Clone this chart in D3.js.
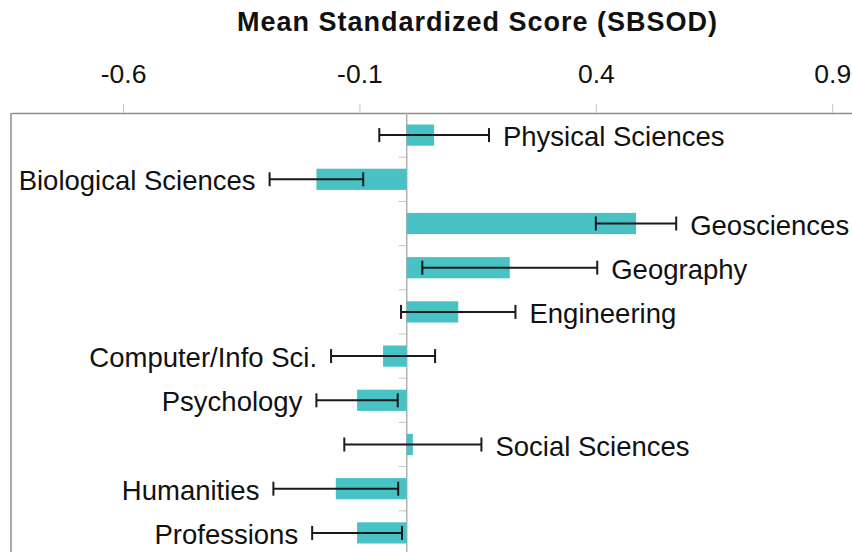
<!DOCTYPE html>
<html>
<head>
<meta charset="utf-8">
<script src="https://cdn.jsdelivr.net/npm/d3@7"></script>
<style>
  body { margin: 0; background: #fff; }
  svg { display: block; font-family: "Liberation Sans", Arial, sans-serif; }
</style>
</head>
<body>
<script>
const width = 852;
const height = 552;

// data
const fields = ['Physical Sciences', 'Biological Sciences', 'Geosciences', 'Geography',
    'Engineering', 'Computer/Info Sci.', 'Psychology', 'Social Sciences', 'Humanities', 'Professions'];
const means = [0.058, -0.191, 0.485, 0.218, 0.109, -0.050, -0.105, 0.013, -0.150, -0.105];
const errors = [0.116, 0.099, 0.085, 0.185, 0.121, 0.110, 0.086, 0.145, 0.132, 0.095];
const xTicks = [-0.6, -0.1, 0.4, 0.9];

let data = fields.map((f, i) => ({ field: f, mean: means[i], err: errors[i] }));

let svg = d3.select('body')
    .append('svg')
    .attr('width', width)
    .attr('height', height);

let plot = { left: 11, top: 113, right: 862, bottom: 555 };

let xScale = d3.scaleLinear()
    .domain([-0.837, 0.963])
    .range([plot.left, plot.right]);

let yScale = d3.scaleBand()
    .domain(fields)
    .range([plot.top, plot.bottom])
    .paddingInner(0.52)
    .paddingOuter(0.26);

// title
svg.append('text')
    .attr('x', 477.5)
    .attr('y', 31)
    .attr('text-anchor', 'middle')
    .style('font-size', '27px')
    .style('font-weight', 'bold')
    .style('letter-spacing', '1px')
    .style('fill', '#111')
    .text('Mean Standardized Score (SBSOD)');

// frame (left edge)
svg.append('line')
    .attr('x1', plot.left).attr('x2', plot.left)
    .attr('y1', plot.top).attr('y2', plot.bottom)
    .style('stroke', '#8c8c8c')
    .style('stroke-width', 1.5);

// top axis
let xAxis = d3.axisTop(xScale)
    .tickValues(xTicks)
    .tickSize(9)
    .tickSizeOuter(0)
    .tickPadding(21)
    .tickFormat(d => d3.format('.1f')(d).replace('\u2212', '-'));

let xAxisGroup = svg.append('g')
    .classed('x axis', true)
    .attr('transform', `translate(0, ${plot.top})`)
    .call(xAxis);

xAxisGroup.select('.domain')
    .style('stroke', '#8c8c8c')
    .style('stroke-width', 1.5);
xAxisGroup.selectAll('.tick line')
    .style('stroke', '#c4c4c4');
xAxisGroup.selectAll('.tick text')
    .style('font-size', '26.5px')
    .style('font-family', '"Liberation Sans", Arial, sans-serif')
    .style('fill', '#111');

// zero axis with ticks between categories
let x0 = xScale(0);
let step = yScale.step();
let gap = (step - yScale.bandwidth()) / 2;

let zeroGroup = svg.append('g').classed('zero axis', true);
zeroGroup.selectAll('.sep')
    .data(fields.slice(1))
    .enter()
    .append('line')
    .classed('sep', true)
    .attr('x1', x0 - 8)
    .attr('x2', x0)
    .attr('y1', d => yScale(d) - gap)
    .attr('y2', d => yScale(d) - gap)
    .style('stroke', '#c4c4c4')
    .style('stroke-width', 1);

// bars
let barsGroup = svg.append('g').classed('bars', true);
barsGroup.selectAll('rect')
    .data(data)
    .enter()
    .append('rect')
    .attr('x', d => Math.min(xScale(d.mean), x0))
    .attr('y', d => yScale(d.field))
    .attr('width', d => Math.abs(xScale(d.mean) - x0))
    .attr('height', yScale.bandwidth())
    .style('fill', '#48c2c5');

zeroGroup.append('line')
    .attr('x1', x0).attr('x2', x0)
    .attr('y1', plot.top).attr('y2', plot.bottom)
    .style('stroke', '#b0b0b0')
    .style('stroke-width', 1.5);

// error bars
let capH = 14;
let errGroup = svg.append('g').classed('errors', true);
let eb = errGroup.selectAll('.eb')
    .data(data)
    .enter()
    .append('g')
    .classed('eb', true)
    .attr('transform', d => `translate(0, ${yScale(d.field) + yScale.bandwidth() / 2})`)
    .style('stroke', '#1a1a1a')
    .style('stroke-width', 2);

eb.append('line')
    .attr('x1', d => xScale(d.mean - d.err))
    .attr('x2', d => xScale(d.mean + d.err));
eb.append('line')
    .attr('x1', d => xScale(d.mean - d.err))
    .attr('x2', d => xScale(d.mean - d.err))
    .attr('y1', -capH / 2).attr('y2', capH / 2);
eb.append('line')
    .attr('x1', d => xScale(d.mean + d.err))
    .attr('x2', d => xScale(d.mean + d.err))
    .attr('y1', -capH / 2).attr('y2', capH / 2);

// labels next to the error bars
svg.append('g')
    .classed('labels', true)
    .selectAll('text')
    .data(data)
    .enter()
    .append('text')
    .attr('x', d => d.mean >= 0 ? xScale(d.mean + d.err) + 14 : xScale(d.mean - d.err) - 14)
    .attr('y', d => yScale(d.field) + yScale.bandwidth() / 2)
    .attr('dy', '0.4em')
    .attr('text-anchor', d => d.mean >= 0 ? 'start' : 'end')
    .style('font-size', '27.5px')
    .style('fill', '#111')
    .text(d => d.field);
</script>
</body>
</html>
